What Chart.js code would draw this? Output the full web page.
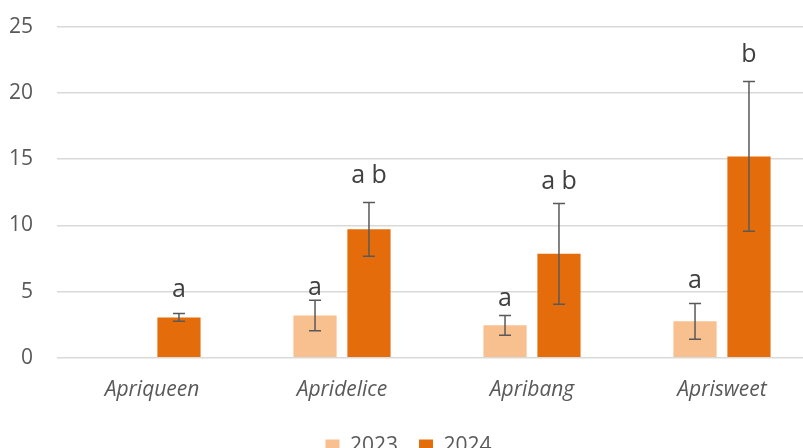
<!DOCTYPE html>
<html>
<head>
<meta charset="utf-8">
<style>
  html, body { margin: 0; padding: 0; background: #fff; overflow: hidden; }
  #wrap { width: 803px; height: 448px; overflow: hidden; }
  #myChart { display: block; margin-top: -10px; }
</style>
<script src="https://cdn.jsdelivr.net/npm/chart.js"></script>
</head>
<body>
<div id="wrap"><canvas id="myChart" width="817" height="477"></canvas></div>
<script>
// data
const varieties = ['Apriqueen', 'Apridelice', 'Apribang', 'Aprisweet'];
const years = ['2023', '2024'];
const values2023 = [null, 3.2, 2.45, 2.75];
const values2024 = [3.05, 9.7, 7.85, 15.2];
const err2023 = [null, 1.15, 0.74, 1.35];
const err2024 = [0.3, 2.03, 3.8, 5.65];
// significance letters and the height (in axis units) of their baseline
const letters2023 = ['', 'a', 'a', 'a'];
const letters2024 = ['a', 'a b', 'a b', 'b'];
const letterY2023 = [null, 4.75, 3.94, 5.28];
const letterY2024 = [4.62, 13.2, 12.75, 22.35];
const yTicks = [0, 5, 10, 15, 20, 25];

const errs = [err2023, err2024];
const letters = [letters2023, letters2024];
const letterYs = [letterY2023, letterY2024];

// error bars + letters, placed through the chart scales
const errorBars = {
  id: 'errorBars',
  afterDatasetsDraw(chart) {
    const ctx = chart.ctx;
    const y = chart.scales.y;
    chart.data.datasets.forEach((ds, di) => {
      const meta = chart.getDatasetMeta(di);
      meta.data.forEach((bar, i) => {
        const v = ds.data[i];
        if (v == null) return;
        const e = errs[di][i];
        const top = y.getPixelForValue(v + e);
        const bot = y.getPixelForValue(v - e);
        ctx.save();
        ctx.strokeStyle = '#595959';
        ctx.lineWidth = 1.5;
        ctx.beginPath();
        ctx.moveTo(bar.x, top); ctx.lineTo(bar.x, bot);
        ctx.moveTo(bar.x - 6, top); ctx.lineTo(bar.x + 6, top);
        ctx.moveTo(bar.x - 6, bot); ctx.lineTo(bar.x + 6, bot);
        ctx.stroke();
        ctx.fillStyle = '#404040';
        ctx.font = '25px "Open Sans"';
        ctx.textAlign = 'center';
        ctx.textBaseline = 'alphabetic';
        ctx.fillText(letters[di][i], bar.x, y.getPixelForValue(letterYs[di][i]));
        ctx.restore();
      });
    });
  }
};

new Chart(document.getElementById('myChart'), {
  type: 'bar',
  data: {
    labels: varieties,
    datasets: [
      { label: years[0], data: values2023, backgroundColor: '#F8BF8F' },
      { label: years[1], data: values2024, backgroundColor: '#E46C0A' }
    ]
  },
  options: {
    responsive: false,
    animation: false,
    devicePixelRatio: 1,
    categoryPercentage: 0.568,
    barPercentage: 0.8,
    layout: { padding: 0 },
    plugins: {
      legend: {
        position: 'bottom',
        labels: {
          boxWidth: 14, boxHeight: 14, color: '#595959', padding: 21,
          font: { family: 'Open Sans', size: 21 }
        }
      },
      tooltip: { enabled: false }
    },
    scales: {
      x: {
        grid: { display: false },
        border: { display: false },
        ticks: { color: '#595959', padding: 12, font: { family: 'Open Sans', size: 21, style: 'italic' } }
      },
      y: {
        min: 0, max: 25,
        afterBuildTicks(axis) { axis.ticks = yTicks.map(v => ({ value: v })); },
        afterFit(axis) { axis.width = 57; },
        grid: { color: '#d9d9d9', lineWidth: 1.5, drawTicks: false },
        border: { display: false },
        ticks: { color: '#595959', padding: 24, font: { family: 'Open Sans', size: 21 } }
      }
    }
  },
  plugins: [errorBars]
});
</script>
</body>
</html>
